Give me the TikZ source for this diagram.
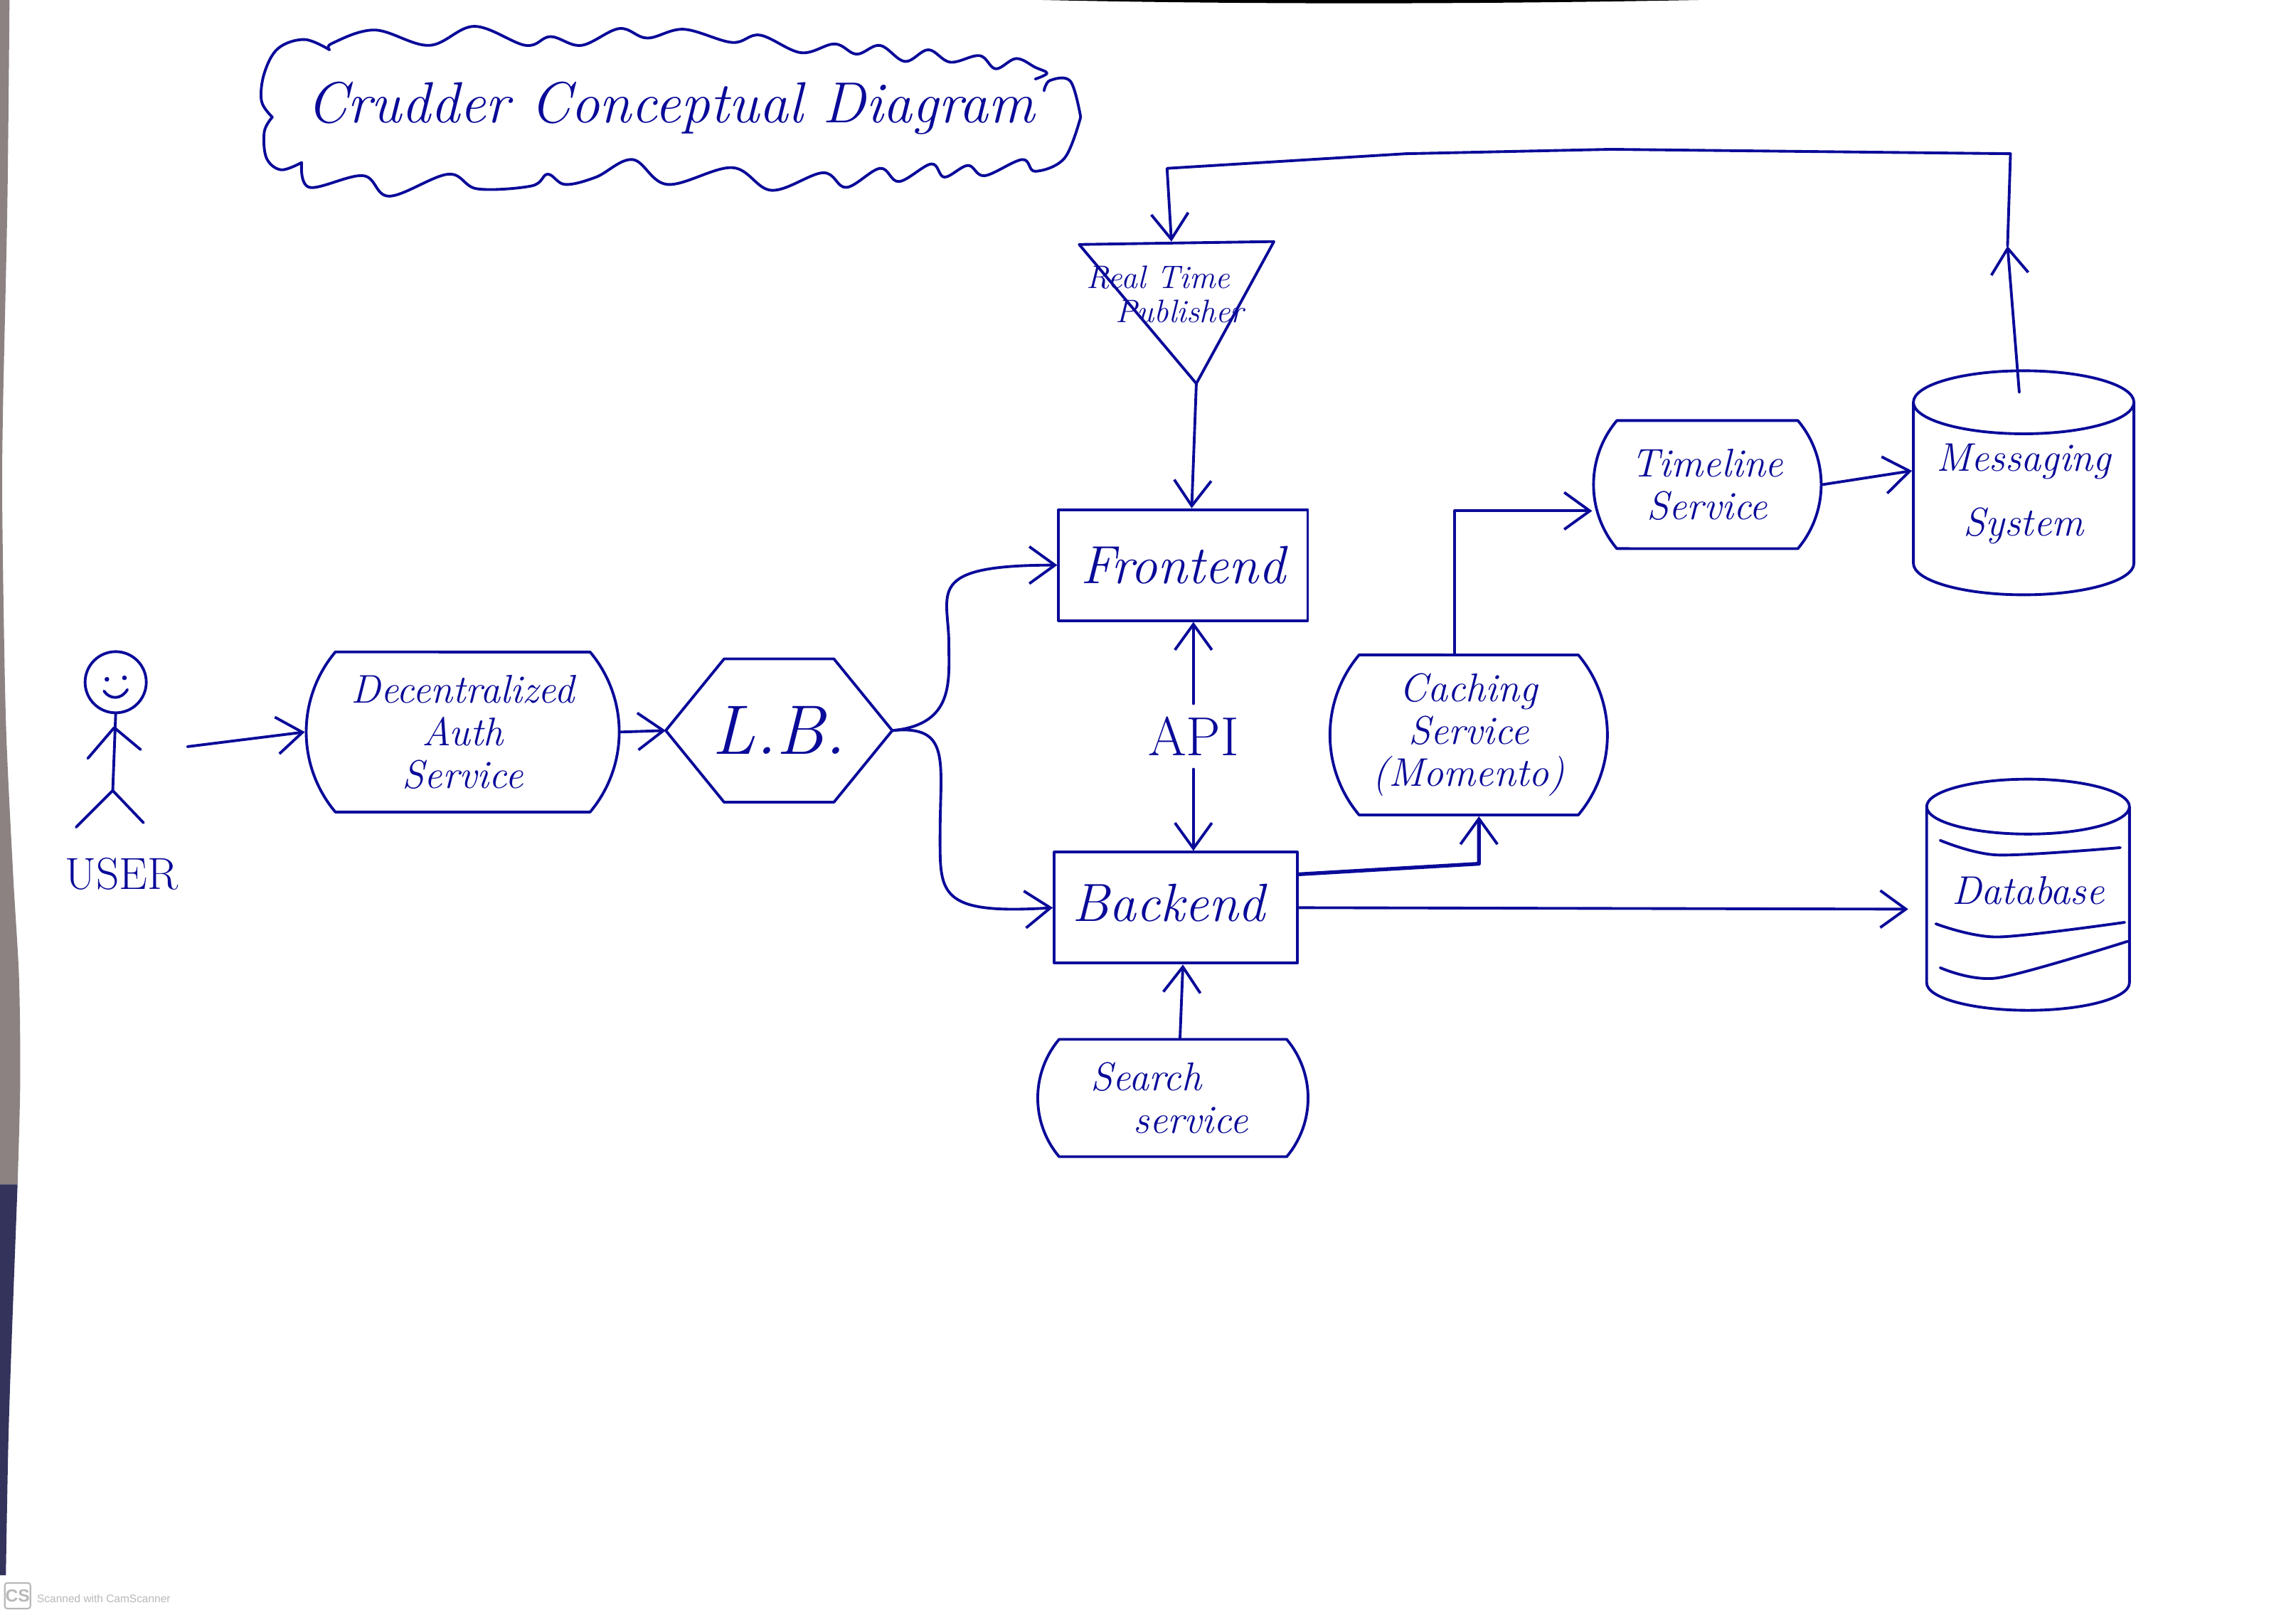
\documentclass[tikz,border=0pt]{standalone}
\usepackage{fontspec}
\newfontfamily\scanfont{Liberation Sans}
\usetikzlibrary{arrows.meta,shapes.misc,shapes.geometric,calc}
\definecolor{InkClr}{rgb}{0.04,0.04,0.60}
\definecolor{ScanClr}{rgb}{0.72,0.72,0.72}
\definecolor{EdgeClr}{rgb}{0.55,0.51,0.51}
\definecolor{ShadeClr}{rgb}{0.20,0.20,0.36}
\tikzset{
  pen/.style={draw=InkClr,line width=1.1pt,line cap=round,line join=round},
  flow/.style={pen,-{Straight Barb[length=.36cm,width=.52cm,line width=1.1pt]}},
  inktext/.style={text=InkClr,align=center,inner sep=0pt,font=\fontsize{16}{17}\selectfont\itshape},
  boxnode/.style={pen,inktext,rectangle,font=\fontsize{21.5}{23}\selectfont\itshape},
  svcnode/.style={pen,inktext,rounded rectangle,rounded rectangle arc length=80},
  storenode/.style={pen,inktext,cylinder,shape border rotate=90,shape aspect=.36}
}
\begin{document}
\begin{tikzpicture}[x=.020587cm,y=-.020587cm]
\useasboundingbox (0,0) rectangle (1568,1103);

% edges of the scan
\fill[EdgeClr] plot[smooth] coordinates {(6.5,0) (5,141) (2,281) (1.6,352) (4,492) (9,598) (13,668) (13.8,739) (12,809)} -- (0,809) -- (0,0) -- cycle;
\fill[ShadeClr] plot[smooth] coordinates {(12,809) (8,915) (5.7,985) (4,1076)} -- (0,1076) -- (0,809) -- cycle;
\fill[black] (712,0) .. controls (850,3) and (1000,3) .. (1160,0) -- cycle;

% title cloud
\draw[pen] plot[smooth,tension=.6] coordinates {(225,34) (208,27) (190,33) (180.5,50) (178.6,69) (186,80)};
\draw[pen] plot[smooth,tension=.6] coordinates {(186,80) (180.5,90) (182,108) (192,116) (206,111)};
\draw[pen] plot[smooth,tension=.6] coordinates {(206,111) (211.5,128) (248,120) (266,134) (306,119) (326,129) (363,127) (374,119) (386,126) (407,121) (432,109) (456,126) (500,114.5) (527,130) (562,118) (578,128) (601,115) (614,124) (636,112) (645,121) (661,113) (672.5,120) (698,109) (707,117) (727,108) (738,80)};
\draw[pen] plot[smooth,tension=.6] coordinates {(738,80) (731,55.5) (717,55) (713,62)};
\draw[pen] plot[smooth,tension=.6] coordinates {(707,54) (715,50) (707,46) (694,40) (680,47) (669,38) (649,42.5) (634,34) (618,42) (601,31) (585,37) (570,30) (547,36) (519,24) (500,29) (467,20) (442,26) (423,19.5) (397,31) (376,25) (359,31) (324,18) (293,31) (256,20.5) (227,29.5) (225,34)};
\node[inktext,font=\fontsize{23.2}{25}\selectfont\itshape] (title) at (458,74) {Crudder Conceptual Diagram};

% user
\node[pen,circle,minimum size=.86cm,inner sep=0pt] (head) at (79,466) {};
\fill[InkClr] (73,464) circle (1.6) (85,463) circle (1.6);
\draw[pen] (71,472) .. controls (75,478) and (83,478) .. (87,471);
\draw[pen] (head.south) -- (77,540) (78,497) -- (60,518) (78,497) -- (96,512) (77,540) -- (52,565) (77,540) -- (98,562);
\node[inktext,font=\fontsize{18}{20}\selectfont] (user) at (83,597) {USER};
\coordinate (userout) at (128,510);

% services
\node[svcnode,minimum width=4.4cm,minimum height=2.25cm] (auth) at (316,500) {Decentralized\\Auth\\Service};
\node[inktext,minimum width=3.17cm,minimum height=2cm,font=\fontsize{28}{30}\selectfont\itshape] (lb) at (532,499) {L.B.};
\draw[pen] (lb.west) -- ([xshift=.82cm]lb.north west) -- ([xshift=-.82cm]lb.north east) -- (lb.east) -- ([xshift=-.82cm]lb.south east) -- ([xshift=.82cm]lb.south west) -- cycle;
\node[boxnode,minimum width=3.5cm,minimum height=1.56cm] (frontend) at (808,386) {Frontend};
\node[boxnode,minimum width=3.42cm,minimum height=1.56cm] (backend) at (803,620) {\raisebox{.15cm}{Backend}\hspace*{.2cm}};
\node[inktext,font=\fontsize{22}{24}\selectfont] (api) at (815,503) {API};
\node[svcnode,minimum width=3.8cm,minimum height=1.65cm] (search) at (801,750) {Search\hspace*{.75cm}\\\hspace*{.5cm}service};
\node[svcnode,minimum width=3.9cm,minimum height=2.25cm] (caching) at (1003,502) {Caching\\Service\\(Momento)};
\node[svcnode,minimum width=3.2cm,minimum height=1.8cm] (timeline) at (1166,331) {Timeline\\Service};
\node[storenode,minimum width=3.1cm,minimum height=3.15cm,font=\fontsize{16}{26}\selectfont\itshape] (messaging) at (1382,341) {\raisebox{.26cm}{Messaging}\\\raisebox{.26cm}{System}};
\node[storenode,minimum width=2.85cm,minimum height=3.25cm] (database) at (1385,621) {\raisebox{.52cm}{Database}};
\draw[pen] plot[smooth] coordinates {(1325,574) (1364,584) (1448,579)};
\draw[pen] plot[smooth] coordinates {(1322,631) (1364,640) (1451,630)};
\draw[pen] plot[smooth] coordinates {(1325,661) (1364,668) (1453,643)};

% real time publisher
\coordinate (publeft) at (737,167);
\coordinate (pubright) at (870,165);
\coordinate (pubtip) at (817,262);
\coordinate (pubtop) at (800,165);
\draw[pen] (publeft) -- (pubright) -- (pubtip) -- cycle;
\node[inktext,font=\fontsize{13}{13.5}\selectfont\itshape] (publisher) at (791,201) {Real Time\\\hspace*{.6cm}Publisher};

% connectors
\draw[flow] (userout) -- (auth.west);
\draw[flow] (auth.east) -- (lb.west);
\draw[flow] (lb.east) .. controls (652,495) and (648,465) .. (648,440) .. controls (648,405) and (630,386) .. (frontend.west);
\draw[flow] (lb.east) .. controls (650,495) and (642,520) .. (642,570) .. controls (642,610) and (640,625) .. (backend.west);
\draw[flow] (pubtip) -- ([xshift=.12cm]frontend.north);
\draw[flow,shorten <=.18cm] (api.north) -- (api.north |- frontend.south);
\draw[flow,shorten <=.18cm] (api.south) -- (api.south |- backend.north);
\draw[flow] ([xshift=.1cm]search.north) -- ([xshift=.1cm]backend.south);
\coordinate (cachebend) at (1010,590);
\draw[flow,line width=1.5pt] ([yshift=.47cm]backend.east) -- (cachebend) -- (cachebend |- caching.south);
\draw[flow] (backend.east) -- ([xshift=-.24cm]database.west);
\draw[flow] ([xshift=-.2cm]caching.north) |- ([yshift=-.37cm]timeline.west);
\draw[flow] (timeline.east) -- ([yshift=.4cm]messaging.west);
\coordinate (msgout) at (1379,268);
\coordinate (msgtip) at (1371,168);
\coordinate (msgcorner) at (1373,105);
\coordinate (msgtop) at (1100,102);
\coordinate (feedmid) at (960,105);
\coordinate (pubcorner) at (797,115);
\draw[flow] (msgout) -- (msgtip);
\draw[flow] (msgtip) -- (msgcorner) -- (msgtop) -- (feedmid) -- (pubcorner) -- (pubtop);

% scanner mark
\node[draw=ScanClr,line width=.6pt,rounded corners=1pt,minimum size=.36cm,inner sep=0pt,text=ScanClr,font=\scanfont\bfseries\fontsize{7}{7}\selectfont] (cslogo) at (12,1090) {CS};
\node[anchor=west,inner sep=0pt,text=ScanClr,font=\scanfont\fontsize{4.4}{5}\selectfont] (scanmark) at (25,1092) {Scanned with CamScanner};
\end{tikzpicture}
\end{document}
